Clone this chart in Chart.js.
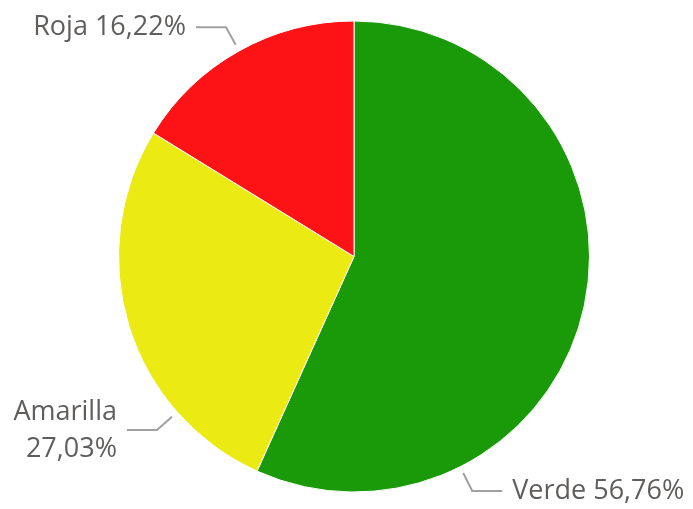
<!DOCTYPE html>
<html>
<head>
<meta charset="utf-8">
<script src="https://cdn.jsdelivr.net/npm/chart.js@4/dist/chart.umd.min.js"></script>
<style>
  html, body { margin: 0; padding: 0; background: #fff; }
  #wrap { width: 693px; height: 509px; }
</style>
</head>
<body>
<div id="wrap"><canvas id="pie" width="693" height="509"></canvas></div>
<script>
// ── Data ──
const categories = ['Verde', 'Amarilla', 'Roja'];
const values = [56.76, 27.03, 16.22];
const valueLabels = ['56,76%', '27,03%', '16,22%'];
const sliceColors = ['#1a9a08', '#ebeb13', '#fd1216'];

// where along each slice the leader line starts (0 = start, 1 = end)
const anchorAt = [0.75, 0.25, 0.5];

const textColor = '#605e5c';
const lineColor = '#a0a0a0';
const labelFont = '27px "Open Sans", "Noto Sans", sans-serif';

// Leader lines + outside labels
const outsideLabels = {
  id: 'outsideLabels',
  afterDatasetsDraw(chart) {
    const ctx = chart.ctx;
    const meta = chart.getDatasetMeta(0);
    ctx.save();
    ctx.font = labelFont;
    ctx.textBaseline = 'middle';
    meta.data.forEach((arc, i) => {
      const { x, y, startAngle, endAngle, outerRadius } = arc.getProps(['x', 'y', 'startAngle', 'endAngle', 'outerRadius'], true);
      const a = startAngle + (endAngle - startAngle) * anchorAt[i];
      const cos = Math.cos(a), sin = Math.sin(a);
      const p1 = { x: x + cos * (outerRadius + 7), y: y + sin * (outerRadius + 7) };
      const p2 = { x: p1.x + cos * 20, y: p1.y + sin * 20 };
      const right = cos >= 0;
      const p3 = { x: p2.x + (right ? 30 : -30), y: p2.y };

      ctx.strokeStyle = lineColor;
      ctx.lineWidth = 2;
      ctx.beginPath();
      ctx.moveTo(p1.x, p1.y);
      ctx.lineTo(p2.x, p2.y);
      ctx.lineTo(p3.x, p3.y);
      ctx.stroke();

      ctx.fillStyle = textColor;
      const tx = p3.x + (right ? 10 : -10);
      ctx.textAlign = right ? 'left' : 'right';
      const full = categories[i] + ' ' + valueLabels[i];
      const room = right ? chart.width - tx - 2 : tx - 2;
      if (ctx.measureText(full).width <= room) {
        ctx.fillText(full, tx, p3.y);
      } else {
        ctx.fillText(categories[i], tx, p3.y - 18);
        ctx.fillText(valueLabels[i], tx, p3.y + 19);
      }
    });
    ctx.restore();
  }
};

new Chart(document.getElementById('pie').getContext('2d'), {
  type: 'pie',
  data: {
    labels: categories,
    datasets: [{
      data: values,
      backgroundColor: sliceColors,
      borderColor: '#ffffff',
      borderWidth: 1
    }]
  },
  options: {
    responsive: false,
    animation: false,
    layout: { padding: { left: 118, right: 103, top: 20, bottom: 16 } },
    plugins: { legend: { display: false }, tooltip: { enabled: false } }
  },
  plugins: [outsideLabels]
});
</script>
</body>
</html>
